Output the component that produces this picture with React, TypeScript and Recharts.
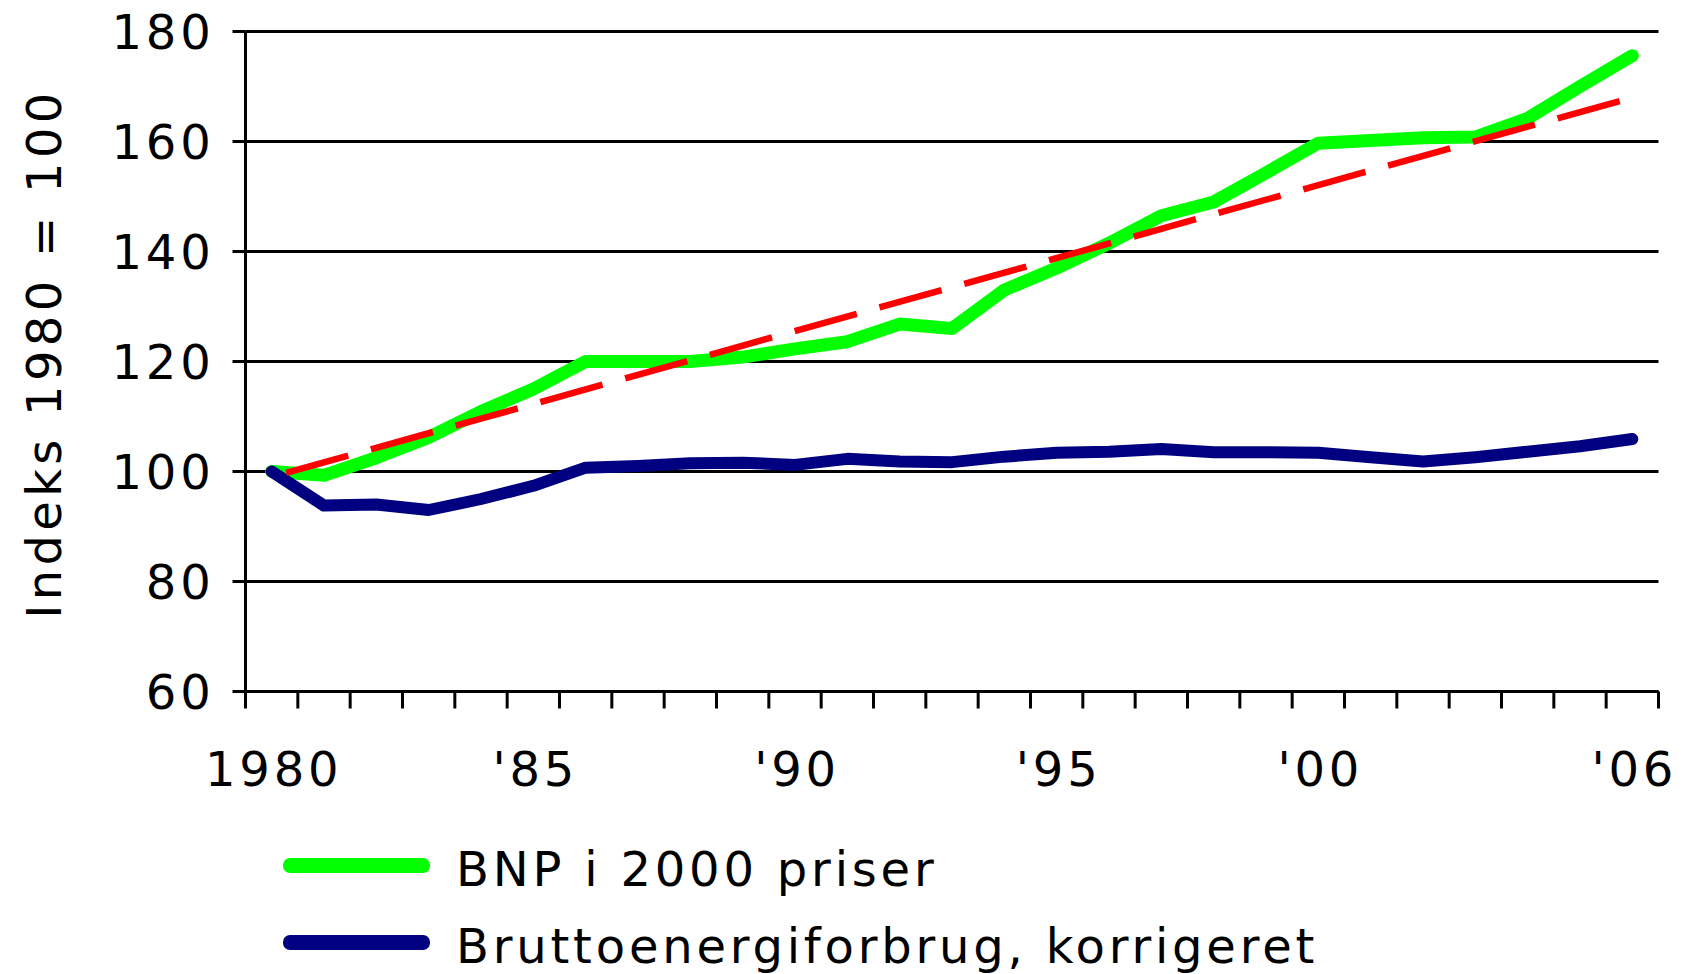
import React from 'react';
import { LineChart, Line, XAxis, YAxis, CartesianGrid, Legend } from 'recharts';

const years = [1980, 1981, 1982, 1983, 1984, 1985, 1986, 1987, 1988, 1989, 1990, 1991, 1992, 1993, 1994, 1995, 1996, 1997, 1998, 1999, 2000, 2001, 2002, 2003, 2004, 2005, 2006];
const bnp = [100, 99.3, 102.5, 106.2, 110.9, 115.0, 120.0, 120.0, 120.0, 120.8, 122.3, 123.6, 126.8, 126.0, 133.0, 137.0, 141.5, 146.5, 149.0, 154.3, 159.7, 160.2, 160.7, 160.8, 164.2, 170.0, 175.6];
const energy = [100, 93.8, 94.0, 93.0, 95.0, 97.4, 100.7, 101.0, 101.5, 101.6, 101.2, 102.3, 101.8, 101.7, 102.7, 103.4, 103.6, 104.1, 103.5, 103.5, 103.4, 102.6, 101.8, 102.6, 103.6, 104.6, 105.9];
const trendYears = [1980, 2006];
const trendValues = [99.0, 168.0];
const xLabelYears = [1980, 1985, 1990, 1995, 2000, 2006];
const xLabels = ['1980', "'85", "'90", "'95", "'00", "'06"];
const yTicks = [60, 80, 100, 120, 140, 160, 180];
const seriesNames = ['BNP i 2000 priser', 'Bruttoenergiforbrug, korrigeret'];
const yAxisTitle = 'Indeks 1980 = 100';

const data = years.map((year, i) => ({ year, bnp: bnp[i], energy: energy[i] }));
const trendData = trendYears.map((year, i) => ({ year, trend: trendValues[i] }));
const boundaries = [...years.map((y) => y - 0.5), years[years.length - 1] + 0.5];
const xTicks = [...boundaries, ...xLabelYears];

const FONT = '"DejaVu Sans", Verdana, sans-serif';
const textStyle: React.CSSProperties = { fontFamily: FONT, fontSize: 48, letterSpacing: 3.8, fill: '#000' };

const XTick = (props: any) => {
  const { x, y, payload } = props;
  const idx = xLabelYears.indexOf(payload.value);
  if (idx >= 0) {
    return (
      <text x={x + 2} y={y} dy={94} textAnchor="middle" style={textStyle}>
        {xLabels[idx]}
      </text>
    );
  }
  return <line x1={x} y1={y} x2={x} y2={y + 17} stroke="#000" strokeWidth={3} />;
};

const YTitle = (props: any) => {
  const vb = props.viewBox || { x: 0, y: 0, width: 0, height: 0 };
  const cx = vb.x + 44;
  const cy = vb.y + vb.height / 2 - 8;
  return (
    <text
      x={cx}
      y={cy}
      transform={`rotate(-90, ${cx}, ${cy})`}
      textAnchor="middle"
      dominantBaseline="central"
      style={{ ...textStyle, letterSpacing: 4.3 }}
    >
      {yAxisTitle}
    </text>
  );
};

const LegendContent = (props: any) => {
  const items = (props.payload || []).filter((p: any) => p.type !== 'none');
  return (
    <div style={{ fontFamily: FONT, fontSize: 48, letterSpacing: 3.8, color: '#000' }}>
      {items.map((p: any) => (
        <div key={p.value} style={{ display: 'flex', alignItems: 'center', height: 77 }}>
          <div
            style={{
              width: 147,
              height: 15,
              borderRadius: 7,
              background: p.color,
              marginTop: -8,
              flex: 'none',
            }}
          />
          <span style={{ marginLeft: 26, whiteSpace: 'nowrap', lineHeight: '77px' }}>{p.value}</span>
        </div>
      ))}
    </div>
  );
};

export default function App() {
  return (
    <div style={{ position: 'absolute', left: 0, top: 0, width: 1683, height: 974, background: '#fff' }}>
      <LineChart width={1683} height={974} data={data} margin={{ top: 31.5, right: 24.5, left: 0, bottom: 0 }}>
        <CartesianGrid horizontal vertical={false} stroke="#000" strokeWidth={3} />
        <XAxis
          dataKey="year"
          type="number"
          domain={[1979.5, 2006.5]}
          ticks={xTicks}
          interval={0}
          height={282.5}
          tickSize={0}
          tickMargin={0}
          tickLine={false}
          axisLine={{ stroke: '#000', strokeWidth: 3 }}
          tick={XTick}
          allowDataOverflow
        />
        <YAxis
          type="number"
          domain={[60, 180]}
          ticks={yTicks}
          interval={0}
          width={245.5}
          tickSize={13}
          tickMargin={18}
          tickLine={{ stroke: '#000', strokeWidth: 3 }}
          axisLine={{ stroke: '#000', strokeWidth: 3 }}
          tick={{ ...textStyle }}
          label={{ content: YTitle }}
        />
        <Line
          dataKey="bnp"
          name={seriesNames[0]}
          stroke="#00FF00"
          strokeWidth={13}
          dot={false}
          activeDot={false}
          type="linear"
          strokeLinejoin="round"
          strokeLinecap="round"
          isAnimationActive={false}
        />
        <Line
          dataKey="energy"
          name={seriesNames[1]}
          stroke="#000080"
          strokeWidth={12}
          dot={false}
          activeDot={false}
          type="linear"
          strokeLinejoin="round"
          strokeLinecap="round"
          isAnimationActive={false}
        />
        <Line
          data={trendData}
          dataKey="trend"
          stroke="#FF0000"
          strokeWidth={6.5}
          strokeDasharray="64.5 23.5"
          strokeDashoffset={73}
          dot={false}
          activeDot={false}
          legendType="none"
          type="linear"
          isAnimationActive={false}
        />
        <Legend
          layout="vertical"
          align="center"
          verticalAlign="middle"
          wrapperStyle={{ left: 283, top: 831, width: 1300 }}
          content={LegendContent}
        />
      </LineChart>
    </div>
  );
}
